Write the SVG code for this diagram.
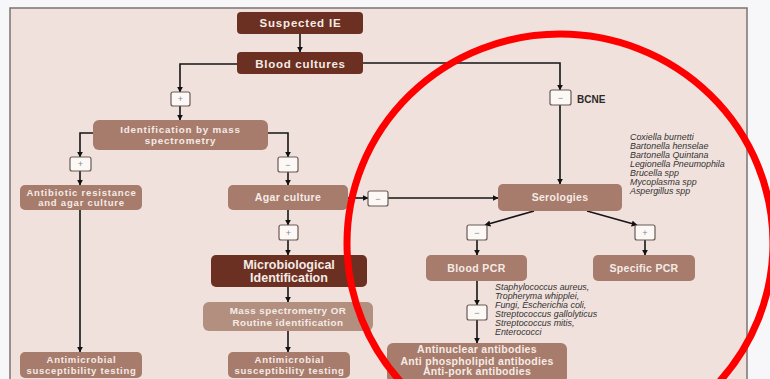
<svg xmlns="http://www.w3.org/2000/svg" width="770" height="379" viewBox="0 0 770 379">
<defs>
<marker id="ah" viewBox="0 0 10 10" refX="9" refY="5" markerWidth="6" markerHeight="6" markerUnits="userSpaceOnUse" orient="auto"><path d="M0,0 L10,5 L0,10 z" fill="#111"/></marker>
<style>
.c{fill:none;stroke:#151515;stroke-width:1.6}
.a{marker-end:url(#ah)}
.dk{fill:#6b3022}
.md{fill:#a77c6c}
.lt{fill:#b38f80}
.bx{fill:#fbf8f6;stroke:#6a5a55;stroke-width:1.2}
.t{font-family:"Liberation Sans",Arial,sans-serif;fill:#f5ebe6;text-anchor:middle;font-weight:bold}
.s{font-family:"Liberation Sans",Arial,sans-serif;font-size:8.9px;font-style:italic;fill:#333}
.sg{font-family:"Liberation Sans",Arial,sans-serif;font-size:9px;fill:#888;text-anchor:middle}
</style>
</defs>
<rect x="0" y="0" width="770" height="379" fill="#f7f7f9"/>
<rect x="10" y="8" width="737" height="380" fill="#f0e1dc" stroke="#7a7373" stroke-width="1.5"/>

<g id="connectors">
<path class="c a" d="M300,34 V52"/>
<path class="c a" d="M237,64 H180 V92"/>
<path class="c a" d="M180,106 V120"/>
<path class="c a" d="M93,133 H80 V157"/>
<path class="c a" d="M80,171 V185"/>
<path class="c a" d="M80,210 V352"/>
<path class="c a" d="M268,133 H288 V157"/>
<path class="c a" d="M288,172 V185"/>
<path class="c a" d="M348,198 H368"/>
<path class="c a" d="M388,198 H498"/>
<path class="c a" d="M288,210 V225"/>
<path class="c a" d="M288,240 V255"/>
<path class="c a" d="M288,287 V302"/>
<path class="c a" d="M288,331 V352"/>
<path class="c a" d="M363,63 H560 V90"/>
<path class="c a" d="M560,105 V184"/>
<path class="c a" d="M534,211 L485,225"/>
<path class="c a" d="M587,211 L637,225"/>
<path class="c a" d="M477,240 V255"/>
<path class="c a" d="M645,240 V255"/>
<path class="c a" d="M477,281 V305"/>
<path class="c a" d="M477,320 V343"/>
</g>

<g id="suspected-ie"><rect class="dk" x="237" y="12" width="126" height="22" rx="4"/><text class="t" x="300.5" y="27" font-size="11.5" letter-spacing="0.8">Suspected IE</text></g>
<g id="blood-cultures"><rect class="dk" x="237" y="52" width="126" height="22" rx="4"/><text class="t" x="300.5" y="67.5" font-size="11.5" letter-spacing="0.7">Blood cultures</text></g>
<g id="plus-1"><rect class="bx" x="171" y="92" width="19" height="14" rx="2"/><text class="sg" x="180.5" y="102">+</text></g>
<g id="identification-ms" letter-spacing="0.8"><rect class="md" x="93" y="120" width="175" height="30" rx="6"/><text class="t" x="180.5" y="133" font-size="9.8">Identification by mass</text><text class="t" x="180.5" y="144" font-size="9.8">spectrometry</text></g>
<g id="plus-2"><rect class="bx" x="70" y="157" width="21" height="14" rx="2"/><text class="sg" x="80.5" y="167">+</text></g>
<g id="antibiotic-resistance" letter-spacing="0.8"><rect class="md" x="20" y="185" width="122" height="25" rx="5"/><text class="t" x="81.5" y="196" font-size="9.5">Antibiotic resistance</text><text class="t" x="81.5" y="206" font-size="9.5">and agar culture</text></g>
<g id="antimicrobial-left" letter-spacing="0.7"><rect class="md" x="20" y="352" width="122" height="26" rx="5"/><text class="t" x="81.5" y="363" font-size="9.5">Antimicrobial</text><text class="t" x="81.5" y="374" font-size="9.5">susceptibility testing</text></g>
<g id="minus-1"><rect class="bx" x="278" y="157" width="20" height="15" rx="2"/><text class="sg" x="288" y="167.5">−</text></g>
<g id="agar-culture" letter-spacing="0.4"><rect class="md" x="228" y="185" width="120" height="25" rx="5"/><text class="t" x="288" y="201" font-size="10.5">Agar culture</text></g>
<g id="minus-2"><rect class="bx" x="368" y="191" width="20" height="15" rx="2"/><text class="sg" x="378" y="201.5">−</text></g>
<g id="plus-3"><rect class="bx" x="279" y="225" width="19" height="15" rx="2"/><text class="sg" x="288.5" y="235.5">+</text></g>
<g id="microbiological-identification"><rect class="dk" x="211" y="255" width="156" height="32" rx="5"/><text class="t" x="289" y="269" font-size="12.5">Microbiological</text><text class="t" x="289" y="281.5" font-size="12.5">Identification</text></g>
<g id="mass-spec-routine" letter-spacing="0.5"><rect class="lt" x="203" y="302" width="170" height="29" rx="6"/><text class="t" x="288" y="314" font-size="9.8">Mass spectrometry OR</text><text class="t" x="288" y="325.5" font-size="9.8">Routine identification</text></g>
<g id="antimicrobial-center" letter-spacing="0.7"><rect class="md" x="228" y="352" width="122" height="26" rx="5"/><text class="t" x="289.5" y="363" font-size="9.5">Antimicrobial</text><text class="t" x="289.5" y="374" font-size="9.5">susceptibility testing</text></g>

<g id="minus-bcne"><rect class="bx" x="550" y="90" width="21" height="15" rx="2"/><text class="sg" x="560.5" y="100.5">−</text><text x="577" y="102.5" font-family="Liberation Sans,Arial,sans-serif" font-size="10" font-weight="bold" fill="#2a2a2a">BCNE</text></g>
<g id="serologies" letter-spacing="0.3"><rect class="md" x="498" y="184" width="124" height="27" rx="5"/><text class="t" x="560" y="201" font-size="10.5">Serologies</text></g>
<g id="serology-species">
<text class="s" x="630" y="140">Coxiella burnetti</text>
<text class="s" x="630" y="149">Bartonella henselae</text>
<text class="s" x="630" y="158">Bartonella Quintana</text>
<text class="s" x="630" y="167">Legionella Pneumophila</text>
<text class="s" x="630" y="176">Brucella spp</text>
<text class="s" x="630" y="185">Mycoplasma spp</text>
<text class="s" x="630" y="194">Aspergillus spp</text>
</g>
<g id="minus-3"><rect class="bx" x="467" y="225" width="20" height="15" rx="2"/><text class="sg" x="477" y="235.5">−</text></g>
<g id="plus-4"><rect class="bx" x="635" y="225" width="20" height="15" rx="2"/><text class="sg" x="645" y="235.5">+</text></g>
<g id="blood-pcr" letter-spacing="0.4"><rect class="md" x="426" y="255" width="101" height="26" rx="5"/><text class="t" x="476.5" y="272" font-size="10.5">Blood PCR</text></g>
<g id="specific-pcr" letter-spacing="0.3"><rect class="md" x="593" y="255" width="102" height="26" rx="5"/><text class="t" x="644" y="272" font-size="10.5">Specific PCR</text></g>
<g id="pcr-species">
<text class="s" x="495" y="290">Staphylococcus aureus,</text>
<text class="s" x="495" y="299">Tropheryma whipplei,</text>
<text class="s" x="495" y="308">Fungi, Escherichia coli,</text>
<text class="s" x="495" y="317">Streptococcus gallolyticus</text>
<text class="s" x="495" y="326">Streptococcus mitis,</text>
<text class="s" x="495" y="335">Enterococci</text>
</g>
<g id="minus-4"><rect class="bx" x="467" y="305" width="20" height="15" rx="2"/><text class="sg" x="477" y="315.5">−</text></g>
<g id="antibodies" letter-spacing="0.3"><rect class="md" x="387" y="343" width="180" height="40" rx="6"/><text class="t" x="477" y="353" font-size="10.5">Antinuclear antibodies</text><text class="t" x="477" y="364.5" font-size="10.5">Anti phospholipid antibodies</text><text class="t" x="477" y="375" font-size="10.5">Anti-pork antibodies</text></g>

<ellipse cx="560" cy="243" rx="213" ry="209" fill="none" stroke="#ff0000" stroke-width="7"/>
</svg>
